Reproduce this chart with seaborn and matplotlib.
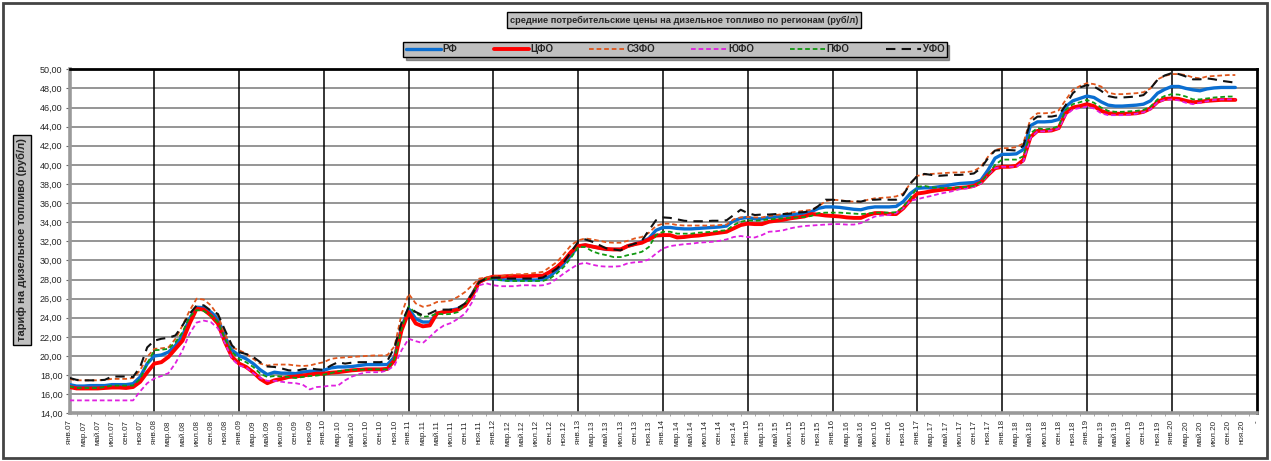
import pandas as pd
import matplotlib
matplotlib.use("Agg")
from matplotlib import pyplot as plt
from matplotlib.patches import Rectangle
import seaborn as sns

# average retail diesel prices by federal district, monthly, Jan 2007 - Oct 2020 (rub/l)
month_abbr = ["янв", "фев", "мар", "апр", "май", "июн", "июл", "авг", "сен", "окт", "ноя", "дек"]
years = list(range(7, 22))

rf = [17.0, 16.85, 16.85, 16.9, 16.9, 16.9, 17.0, 17.0, 17.0, 17.1, 17.8, 19.2,
      20.0, 20.1, 20.4, 21.1, 22.15, 23.9, 25.1, 25.05, 24.6, 23.9, 22.0, 20.6,
      20.05, 19.7, 19.2, 18.55, 18.05, 18.3, 18.2, 18.2, 18.15, 18.3, 18.4, 18.4,
      18.5, 18.75, 18.85, 18.85, 18.9, 19.0, 19.1, 19.1, 19.1, 19.1, 19.9, 23.0,
      24.95, 23.9, 23.55, 23.55, 24.45, 24.6, 24.8, 24.95, 25.3, 26.5, 27.75, 28.1,
      28.1, 28.0, 27.95, 27.95, 27.95, 27.95, 27.95, 28.0, 28.35, 29.0, 29.7, 30.55,
      31.5, 31.6, 31.45, 31.3, 31.15, 31.15, 31.15, 31.5, 31.7, 31.95, 32.3, 33.15,
      33.45, 33.45, 33.35, 33.3, 33.3, 33.35, 33.4, 33.45, 33.5, 33.6, 34.15, 34.4,
      34.5, 34.35, 34.35, 34.5, 34.55, 34.65, 34.75, 34.85, 34.95, 35.1, 35.45, 35.6,
      35.6, 35.55, 35.45, 35.35, 35.3, 35.5, 35.6, 35.6, 35.6, 35.65, 36.15, 37.0,
      37.55, 37.6, 37.6, 37.7, 37.8, 37.95, 38.05, 38.1, 38.15, 38.4, 39.45, 40.7,
      41.1, 41.1, 41.15, 41.6, 44.1, 44.5, 44.5, 44.55, 44.75, 46.1, 46.7, 46.95,
      47.2, 47.05, 46.6, 46.25, 46.15, 46.15, 46.2, 46.25, 46.35, 46.7, 47.5, 47.9,
      48.2, 48.2, 48.0, 47.85, 47.75, 47.95, 48.05, 48.1, 48.1, 48.1]

cfo = [16.75, 16.6, 16.6, 16.6, 16.6, 16.65, 16.7, 16.7, 16.65, 16.75, 17.3, 18.3,
       19.2, 19.35, 19.9, 20.75, 21.6, 23.4, 24.95, 24.85, 24.25, 23.4, 21.45, 19.9,
       19.2, 18.85, 18.3, 17.6, 17.15, 17.45, 17.6, 17.8, 17.85, 17.95, 18.05, 18.15,
       18.15, 18.25, 18.3, 18.4, 18.5, 18.55, 18.6, 18.6, 18.6, 18.65, 19.55, 22.7,
       24.6, 23.4, 23.1, 23.2, 24.45, 24.6, 24.7, 24.85, 25.3, 26.35, 27.75, 28.1,
       28.3, 28.3, 28.35, 28.35, 28.35, 28.35, 28.4, 28.4, 28.8, 29.3, 30.0, 30.9,
       31.5, 31.6, 31.45, 31.3, 31.2, 31.15, 31.15, 31.5, 31.7, 31.85, 32.2, 32.6,
       32.65, 32.65, 32.4, 32.45, 32.55, 32.6, 32.7, 32.8, 32.9, 33.0, 33.35, 33.7,
       33.85, 33.8, 33.8, 34.05, 34.15, 34.25, 34.4, 34.5, 34.6, 34.85, 34.8, 34.7,
       34.65, 34.6, 34.5, 34.45, 34.45, 34.75, 34.95, 34.95, 34.85, 34.85, 35.45, 36.3,
       37.0, 37.1, 37.25, 37.35, 37.45, 37.5, 37.6, 37.65, 37.8, 38.15, 38.95, 39.65,
       39.8, 39.8, 39.9, 40.5, 42.9, 43.55, 43.55, 43.6, 43.85, 45.4, 46.0, 46.15,
       46.35, 46.15, 45.65, 45.4, 45.35, 45.35, 45.35, 45.4, 45.55, 45.9, 46.6, 46.9,
       46.95, 46.9, 46.7, 46.55, 46.6, 46.7, 46.75, 46.8, 46.8, 46.8]

szfo = [17.6, 17.45, 17.45, 17.45, 17.45, 17.5, 17.6, 17.6, 17.6, 17.7, 18.5, 19.9,
        20.75, 20.8, 20.9, 21.8, 23.2, 24.75, 26.0, 25.9, 25.3, 24.25, 22.3, 20.9,
        20.6, 20.25, 19.7, 19.2, 19.0, 19.1, 19.1, 19.1, 19.0, 18.95, 19.0, 19.2,
        19.35, 19.7, 19.8, 19.85, 19.9, 19.95, 20.0, 20.05, 20.05, 20.1, 21.0, 24.4,
        26.5, 25.5, 25.15, 25.3, 25.65, 25.7, 25.8, 26.2, 26.7, 27.4, 28.1, 28.2,
        28.35, 28.35, 28.45, 28.55, 28.55, 28.6, 28.7, 28.8, 29.3, 29.85, 30.7, 31.6,
        32.1, 32.3, 32.2, 32.05, 31.9, 31.85, 31.85, 32.05, 32.3, 32.45, 32.9, 33.6,
        33.85, 33.85, 33.7, 33.65, 33.65, 33.65, 33.65, 33.65, 33.7, 33.75, 34.3, 34.5,
        34.55, 34.5, 34.5, 34.65, 34.75, 34.85, 35.0, 35.1, 35.2, 35.3, 35.65, 36.2,
        36.35, 36.3, 36.2, 36.15, 36.15, 36.35, 36.5, 36.55, 36.6, 36.7, 37.0, 38.05,
        38.85, 39.0, 39.05, 39.1, 39.15, 39.2, 39.2, 39.25, 39.35, 39.8, 40.85, 41.55,
        41.75, 41.75, 41.85, 42.25, 44.8, 45.4, 45.4, 45.45, 45.7, 46.8, 47.85, 48.25,
        48.55, 48.45, 48.2, 47.55, 47.4, 47.4, 47.45, 47.5, 47.6, 48.0, 48.95, 49.3,
        49.5, 49.5, 49.4, 49.15, 49.05, 49.25, 49.3, 49.35, 49.4, 49.4]

ufo_south = [15.35, 15.35, 15.35, 15.35, 15.35, 15.35, 15.35, 15.35, 15.35, 15.35, 16.3, 17.15,
             17.65, 17.9, 18.2, 19.25, 20.6, 22.35, 23.5, 23.7, 23.55, 22.9, 21.35, 19.7,
             19.0, 18.8, 18.2, 17.7, 17.4, 17.4, 17.3, 17.2, 17.15, 17.0, 16.5, 16.75,
             16.8, 16.9, 16.9, 17.45, 17.85, 18.1, 18.3, 18.3, 18.3, 18.5, 19.0, 20.6,
             21.8, 21.55, 21.35, 22.0, 22.7, 23.2, 23.45, 23.9, 24.45, 25.65, 27.4, 27.6,
             27.4, 27.3, 27.3, 27.3, 27.4, 27.4, 27.35, 27.4, 27.6, 28.1, 28.65, 29.15,
             29.6, 29.75, 29.55, 29.4, 29.35, 29.35, 29.4, 29.7, 29.8, 29.85, 30.1, 30.7,
             31.25, 31.5, 31.6, 31.7, 31.75, 31.85, 31.9, 31.95, 32.05, 32.2, 32.45, 32.55,
             32.45, 32.4, 32.65, 33.0, 33.05, 33.15, 33.35, 33.5, 33.6, 33.65, 33.7, 33.75,
             33.8, 33.8, 33.75, 33.75, 33.9, 34.25, 34.6, 34.7, 34.75, 34.95, 35.45, 36.25,
             36.4, 36.6, 36.75, 36.95, 37.1, 37.25, 37.45, 37.55, 37.7, 38.05, 38.95, 39.65,
             39.8, 39.8, 39.8, 40.35, 42.8, 43.5, 43.5, 43.6, 43.8, 45.2, 45.8, 45.95,
             46.1, 45.9, 45.4, 45.2, 45.2, 45.2, 45.25, 45.35, 45.5, 45.8, 46.55, 46.8,
             46.85, 46.75, 46.5, 46.35, 46.5, 46.65, 46.8, 46.85, 46.85, 46.85]

pfo = [16.8, 16.65, 16.65, 16.65, 16.65, 16.75, 16.9, 16.9, 16.9, 16.9, 17.6, 19.2,
       20.6, 20.65, 20.75, 21.45, 22.5, 24.1, 24.8, 24.7, 24.25, 23.55, 21.8, 20.4,
       19.7, 19.35, 18.85, 18.15, 17.8, 17.9, 17.85, 17.8, 17.7, 17.8, 17.9, 17.95,
       18.05, 18.2, 18.4, 18.5, 18.55, 18.55, 18.6, 18.6, 18.6, 18.6, 19.7, 22.85,
       25.2, 24.45, 24.1, 24.15, 24.45, 24.35, 24.4, 24.6, 25.5, 26.5, 27.8, 28.1,
       28.1, 27.95, 27.85, 27.85, 27.85, 27.85, 27.85, 27.85, 28.1, 28.65, 29.35, 30.3,
       31.4, 31.4, 30.95, 30.7, 30.55, 30.35, 30.35, 30.55, 30.7, 30.9, 31.4, 32.65,
       33.0, 33.0, 32.8, 32.8, 32.8, 32.9, 32.95, 33.0, 33.1, 33.15, 33.7, 34.05,
       34.2, 34.15, 34.2, 34.3, 34.35, 34.4, 34.45, 34.5, 34.55, 34.65, 34.95, 35.0,
       35.0, 35.0, 34.95, 34.9, 34.85, 34.9, 35.0, 35.0, 35.0, 35.05, 35.6, 36.5,
       37.7, 37.8, 37.65, 37.6, 37.55, 37.6, 37.65, 37.7, 37.8, 38.2, 39.0, 40.0,
       40.55, 40.55, 40.55, 40.9, 43.3, 43.85, 43.7, 43.8, 44.05, 45.75, 46.35, 46.55,
       46.8, 46.5, 46.0, 45.65, 45.55, 45.55, 45.6, 45.65, 45.75, 46.1, 46.85, 47.2,
       47.4, 47.35, 47.15, 46.85, 46.85, 46.95, 47.05, 47.1, 47.15, 47.15]

ufo = [17.7, 17.5, 17.45, 17.45, 17.45, 17.5, 17.85, 17.85, 17.85, 17.8, 18.85, 20.9,
       21.6, 21.8, 21.9, 22.15, 23.2, 24.4, 25.3, 25.3, 24.75, 24.4, 22.7, 21.1,
       20.4, 20.2, 19.9, 19.35, 18.9, 18.85, 18.7, 18.5, 18.45, 18.6, 18.7, 18.6,
       18.55, 19.0, 19.35, 19.2, 19.3, 19.35, 19.35, 19.35, 19.35, 19.5, 20.9, 23.5,
       25.1, 24.6, 24.25, 24.45, 24.8, 24.85, 24.85, 25.05, 25.5, 26.5, 27.75, 28.1,
       28.2, 28.2, 28.1, 28.1, 28.1, 28.1, 28.1, 28.2, 28.65, 29.15, 29.85, 30.9,
       31.95, 32.2, 31.95, 31.6, 31.25, 31.15, 31.05, 31.5, 31.75, 32.05, 33.15, 34.2,
       34.5, 34.45, 34.3, 34.15, 34.1, 34.1, 34.1, 34.15, 34.15, 34.2, 34.75, 35.3,
       34.95, 34.75, 34.8, 34.8, 34.85, 34.85, 34.9, 35.0, 35.05, 35.2, 35.7, 36.35,
       36.35, 36.25, 36.2, 36.2, 36.15, 36.35, 36.35, 36.4, 36.35, 36.35, 36.85, 38.05,
       38.85, 39.05, 38.95, 38.85, 38.9, 38.95, 38.95, 39.0, 39.1, 39.65, 40.7, 41.5,
       41.55, 41.55, 41.5, 42.0, 44.5, 45.05, 45.05, 45.05, 45.2, 46.25, 47.5, 48.1,
       48.35, 48.2, 47.75, 47.2, 47.05, 47.05, 47.1, 47.15, 47.3, 48.0, 48.9, 49.35,
       49.6, 49.5, 49.25, 48.95, 48.95, 49.05, 48.95, 48.8, 48.7, 48.6]

regions = ["РФ", "ЦФО", "СЗФО", "ЮФО", "ПФО", "УФО"]
series = [rf, cfo, szfo, ufo_south, pfo, ufo]
colors = ["#0a6ed1", "#ff0000", "#e0561c", "#e020e0", "#119911", "#111111"]
widths = [2.4, 2.8, 1.3, 1.3, 1.3, 1.5]
styles = ["-", "-", (0, (2.6, 1.6)), (0, (2.6, 1.6)), (0, (2.6, 1.6)), (0, (4.5, 3.0))]

title = "средние потребительские цены на дизельное топливо по регионам (руб/л)"
ylabel = "тариф на дизельное топливо (руб/л)"

# category labels, one per month (Jan 2007 .. Jan 2021)
labels = [f"{m}.{y:02d}" for y in years for m in month_abbr][:169]
labels[-1] = "-"

rows = []
for name, vals in zip(regions, series):
    for i, v in enumerate(vals):
        rows.append({"month": i, "region": name, "price": v})
df = pd.DataFrame(rows)

sns.set_theme(style="white")
plt.rcParams["font.family"] = ["Liberation Sans", "DejaVu Sans"]

W, H = 1271, 461
fig = plt.figure(figsize=(W / 100, H / 100), dpi=100)
ax = fig.add_axes([69.5 / W, 1 - 413.3 / H, (1256.5 - 69.5) / W, (413.3 - 69.3) / H])

ax.set_ylim(14, 50)
ax.set_xlim(0, 168)
ax.set_yticks(range(14, 51, 2))
ax.set_yticklabels([f"{v},00" for v in range(14, 51, 2)], fontsize=6.5)
ax.yaxis.grid(True, color="#8c8c8c", lw=1.3)
ax.xaxis.grid(False)
ax.set_axisbelow(True)

# year separators
for i in range(12, 157, 12):
    ax.axvline(i, color="black", lw=1.1, zorder=1.5)

for name, col, lw, ls in zip(regions, colors, widths, styles):
    sub = df[df["region"] == name]
    sns.lineplot(data=sub, x="month", y="price", color=col, linewidth=lw,
                 linestyle=ls, label=name, ax=ax, zorder=3)

ax.set_xticks(range(0, 169, 2))
ax.set_xticklabels(labels[::2], rotation=90, fontsize=5.8)
ax.set_xticks(range(0, 169), minor=True)
ax.tick_params(axis="x", which="major", length=3, width=0.8, color="#666666", pad=2)
ax.tick_params(axis="x", which="minor", length=2, width=0.6, color="#999999", bottom=True)
ax.tick_params(axis="y", length=3, width=0.8, color="#666666", left=True, pad=2)
ax.set_xlabel("")
ax.set_ylabel("")

for side in ["left", "bottom"]:
    ax.spines[side].set_color("#9a9a9a")
    ax.spines[side].set_linewidth(2.6)
for side in ["top", "right"]:
    ax.spines[side].set_color("black")
    ax.spines[side].set_linewidth(2.0)

handles, labs = ax.get_legend_handles_labels()
leg = ax.legend(handles, labs, loc="center", bbox_to_anchor=(675 / W, 1 - 49.5 / H),
                bbox_transform=fig.transFigure, ncol=6, frameon=True, fancybox=False,
                shadow=True, facecolor="#c0c0c0", edgecolor="black", framealpha=1,
                prop={"weight": "bold", "size": 7}, handlelength=3.6,
                columnspacing=3.7, handletextpad=0.2, borderpad=0.25)
leg.get_frame().set_linewidth(1.0)

fig.text(684 / W, 1 - 20 / H, title, ha="center", va="center", fontsize=6.7,
         weight="bold", bbox=dict(boxstyle="square,pad=0.35", fc="#c0c0c0", ec="black", lw=1))
fig.text(22 / W, 1 - 240 / H, ylabel, ha="center", va="center", rotation=90, fontsize=8,
         weight="bold", bbox=dict(boxstyle="square,pad=0.3", fc="#c0c0c0", ec="black", lw=1))

fig.add_artist(Rectangle((3 / W, 3 / H), 1264 / W, 455 / H, transform=fig.transFigure,
                         fill=False, ec="#444444", lw=2))

fig.savefig("out.png", dpi=100)
